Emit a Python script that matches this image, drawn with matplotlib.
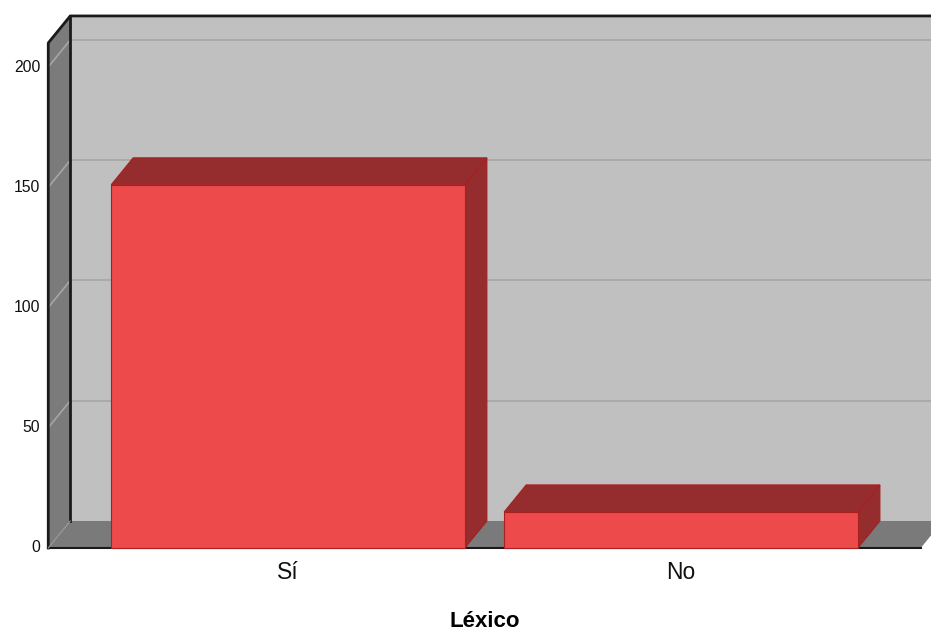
import matplotlib.pyplot as plt
import numpy as np
from matplotlib.patches import Polygon, Rectangle

plt.rcParams['font.family'] = ['Liberation Sans', 'DejaVu Sans']

categories = ["Sí", "No"]
counts = [151, 15]
y_ticks = [0, 50, 100, 150, 200]
x_title = "Léxico"

# chart box in data units
x_lo, x_hi = -0.61, 1.61
y_top = 210
bar_w = 0.9
depth_px = (22, 27)  # depth offset in pixels (right, up)

wall = "#c0c0c0"
side_wall = "#7b7b7b"
floor_c = "#7a7a7a"
grid_c = "#a6a6a6"
bar_front = "#ec4a4b"
bar_dark = "#952c2e"
bar_edge = "#a8201f"

fig = plt.figure(figsize=(9.31, 6.32), dpi=100)
ax = fig.add_axes([0, 0, 1, 1])
ax.set_xlim(-0.7328, 1.636)
ax.set_ylim(-34.93, 227.86)
ax.axis("off")

inv = ax.transData.inverted()


def back(x, y):
    px = ax.transData.transform((x, y)) + np.array(depth_px)
    return tuple(inv.transform(px))


def poly(pts, fc, ec="none", lw=0.8, z=1):
    ax.add_patch(Polygon(pts, closed=True, facecolor=fc, edgecolor=ec,
                         linewidth=lw, zorder=z, joinstyle="miter"))


# back wall
poly([back(x_lo, 0), back(x_hi, 0), back(x_hi, y_top), back(x_lo, y_top)], wall, z=1)
# floor
poly([(x_lo, 0), (x_hi, 0), back(x_hi, 0), back(x_lo, 0)], floor_c, z=2)
# left wall
poly([(x_lo, 0), back(x_lo, 0), back(x_lo, y_top), (x_lo, y_top)], side_wall, z=2)

# grid lines on back and left walls
for t in y_ticks[1:]:
    b0 = back(x_lo, t)
    b1 = back(x_hi, t)
    ax.plot([b0[0], b1[0]], [b0[1], b1[1]], color=grid_c, lw=1.2, zorder=3)
    ax.plot([x_lo, b0[0]], [t, b0[1]], color=grid_c, lw=1.2, zorder=3)

# outline of the box
bl, tl = back(x_lo, 0), back(x_lo, y_top)
tr = back(x_hi, y_top)
ax.plot([x_lo, x_lo, tl[0], tr[0]], [0, y_top, tl[1], tr[1]], color="#1a1a1a", lw=2, zorder=4)
ax.plot([bl[0], tl[0]], [bl[1], tl[1]], color="#1a1a1a", lw=2, zorder=4)
ax.plot([x_lo, x_hi], [0, 0], color="#1a1a1a", lw=1.5, zorder=4)
fb = back(x_lo, 0)
ax.plot([x_lo, fb[0]], [0, fb[1]], color="#999999", lw=0.8, zorder=4)

# bars
for i, v in enumerate(counts):
    x0, x1 = i - bar_w / 2, i + bar_w / 2
    poly([(x1, 0), (x1, v), back(x1, v), back(x1, 0)], bar_dark, ec=bar_edge, z=5)
    poly([(x0, v), (x1, v), back(x1, v), back(x0, v)], bar_dark, ec=bar_edge, z=5)
    ax.add_patch(Rectangle((x0, 0), bar_w, v, facecolor=bar_front,
                           edgecolor=bar_edge, linewidth=0.8, zorder=6))

# tick labels
for t in y_ticks:
    ax.text(x_lo - 0.02, t, str(t), ha="right", va="center", fontsize=11.3, color="#111111")
for i, c in enumerate(categories):
    ax.text(i, -10.3, c, ha="center", va="center", fontsize=16.5, color="#111111")
ax.text(0.5, -30.4, x_title, ha="center", va="center", fontsize=16,
        fontweight="bold", color="#000000")

fig.savefig("out.png", dpi=100)
